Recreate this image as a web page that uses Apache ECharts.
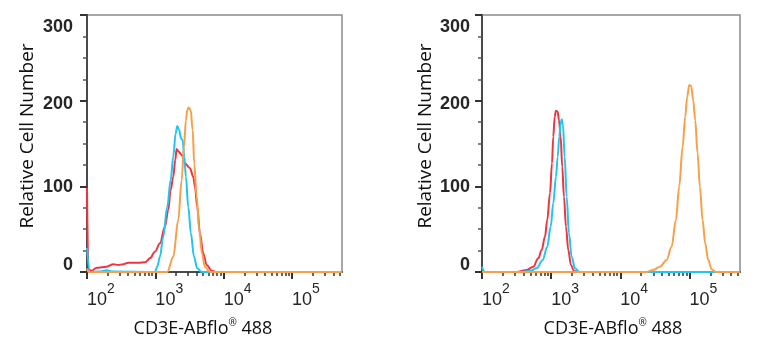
<!DOCTYPE html>
<html>
<head>
<meta charset="utf-8">
<script src="https://cdn.jsdelivr.net/npm/echarts@6/dist/echarts.min.js"></script>
<style>
html,body{margin:0;padding:0;background:#fff;}
#chart{width:757px;height:350px;}
</style>
</head>
<body>
<div id="chart"></div>
<script>
// ---- data (fluorescence value, relative cell count) ----
const xAxisTitle = 'CD3E-ABflo® 488';
const yAxisTitle = 'Relative Cell Number';
const yTickValues = [0, 100, 200, 300];
const xTickExponents = [2, 3, 4, 5];
const xMin = 100;
const xMax = 537000;

const leftRed = [[100,98],[104.5,3],[117,1.5],[139,5],[194,6.2],[242,9],[287,8.2],[340,9],[402,10.9],[562,10.9],[705,11.3],[834,16],[986,23.7],[1167,33.5],[1381,52.9],[1544,72.4],[1674,95.7],[1827,111.2],[1954,130.7],[2048,143.6],[2191,140.4],[2424,136.6],[2709,126.9],[3206,121],[3583,111.2],[3793,99.6],[4100,76.2],[4487,45.2],[5015,21.8],[5623,8.2],[6653,1.5],[7870,0],[537000,0]];
const leftCyan = [[100,28],[111,0],[150,0.5],[195,2],[240,0.5],[986,0],[1066,6.2],[1167,17.9],[1304,41.2],[1493,76.2],[1674,107.4],[1827,134.6],[1981,161.9],[2090,170.4],[2235,165.8],[2367,156],[2506,154],[2647,134.6],[2800,111],[3027,76],[3313,45],[3667,18],[4100,4.3],[4753,0],[537000,0]];
const leftOrange = [[100,4],[106,0],[1493,0],[1827,17.9],[2162,60.7],[2424,107],[2618,146],[2800,177],[2927,189],[3069,192],[3281,189],[3508,166],[3704,127],[4015,88],[4385,49],[4799,22],[5309,6],[6281,0],[537000,0]];

const rightRed = [[100,0],[317,0],[443,2.3],[551,6.2],[651,16],[729,25.7],[813,41.2],[878,60.7],[961,91.9],[1028,126.9],[1072,157.9],[1124,181.3],[1173,188.3],[1242,187.1],[1297,177.4],[1371,157.9],[1446,122.9],[1531,87.9],[1637,52.9],[1766,25.7],[1932,8.2],[2133,1.2],[2464,0],[537000,0]];
const rightCyan = [[100,6],[110,0],[354,0],[494,1.5],[617,4.3],[754,14],[878,29.5],[984,52.9],[1072,80.2],[1173,111.2],[1242,134.6],[1309,157.9],[1371,173.6],[1419,178.2],[1482,171.6],[1567,134.6],[1675,87.9],[1807,45.2],[1978,17.9],[2208,4.3],[2547,0],[537000,0]];
const rightOrange = [[100,0],[23988,0],[29854,2.3],[37343,6.2],[46660,14],[55081,29.5],[63561,60.7],[70975,99.6],[79490,146.3],[86660,181.3],[92640,204.6],[99080,218.3],[105900,216.8],[113000,200.8],[120800,177.4],[130900,138.6],[141300,99.6],[154600,60.7],[168600,33.5],[186400,14],[208600,3.2],[241000,0],[537000,0]];

// ---- derived tick lists ----
const xMajor = xTickExponents.map(e => Math.pow(10, e));
const xMinor = [];
xTickExponents.forEach(e => { for (let m = 2; m <= 9; m++) { const v = m * Math.pow(10, e); if (v <= xMax) xMinor.push(v); } });

const COL_RED = '#f03440', COL_CYAN = '#22c4f0', COL_ORANGE = '#f8a048';
const TICK_COL = '#333', AXIS_COL = '#4a4a4a', LABEL_COL = '#262626';

// vertical nudges of tick labels (style only)
const yLabelRich = {
  t0:   {fontFamily:'Liberation Sans', fontWeight:'bold', fontSize:18, color:LABEL_COL, padding:[0,0,14,0]},
  t100: {fontFamily:'Liberation Sans', fontWeight:'bold', fontSize:18, color:LABEL_COL, padding:[2,0,0,0]},
  t200: {fontFamily:'Liberation Sans', fontWeight:'bold', fontSize:18, color:LABEL_COL, padding:[6,0,0,0]},
  t300: {fontFamily:'Liberation Sans', fontWeight:'bold', fontSize:18, color:LABEL_COL, padding:[24,0,0,0]}
};

function makeGrid(left, right) {
  return {left: left, right: right, top: 15, bottom: 78, show: true, borderColor: '#8a8a8a', borderWidth: 1.5, backgroundColor: '#fff'};
}
function xMajorAxis(g, namePad) {
  return {
    type: 'log', logBase: 10, gridIndex: g, min: xMin, max: xMax, position: 'bottom',
    axisLine: {show: true, onZero: false, lineStyle: {color: AXIS_COL, width: 2}},
    axisTick: {show: true, inside: false, customValues: xMajor, length: 7, lineStyle: {color: TICK_COL, width: 2}},
    minorTick: {show: false},
    splitLine: {show: false},
    axisLabel: {
      customValues: xMajor, align: 'left', margin: 10,
      formatter: v => '{b|10}{s|' + Math.round(Math.log10(v)) + '}',
      rich: {
        b: {fontFamily: 'Liberation Sans', fontSize: 18, color: LABEL_COL, lineHeight: 36, verticalAlign: 'middle'},
        s: {fontFamily: 'Liberation Sans', fontSize: 14, color: LABEL_COL, lineHeight: 14, verticalAlign: 'top'}
      }
    },
    name: 'CD3E-ABflo{r|®} 488', nameLocation: 'middle', nameGap: 46,
    nameTextStyle: {
      fontFamily: 'Open Sans', fontSize: 18, color: '#111', lineHeight: 22, padding: namePad,
      rich: {r: {fontFamily: 'Open Sans', fontSize: 10, color: '#111', lineHeight: 10, verticalAlign: 'top'}}
    }
  };
}
function xMinorAxis(g) {
  return {
    type: 'log', logBase: 10, gridIndex: g, min: xMin, max: xMax, position: 'bottom',
    axisLine: {show: false, onZero: false},
    axisTick: {show: true, inside: false, customValues: xMinor, length: 4, lineStyle: {color: TICK_COL, width: 1.5}},
    axisLabel: {show: false}, splitLine: {show: false}
  };
}
function yAxisCfg(g, labelMargin, nameGap) {
  return {
    type: 'value', gridIndex: g, min: 0, max: 300, interval: 100,
    axisLine: {show: true, onZero: false, lineStyle: {color: AXIS_COL, width: 2}},
    axisTick: {show: true, length: 7, lineStyle: {color: TICK_COL, width: 2}},
    minorTick: {show: true, splitNumber: 4, length: 4, lineStyle: {color: '#555', width: 1.5}},
    splitLine: {show: false},
    axisLabel: {
      margin: labelMargin,
      formatter: v => yTickValues.indexOf(v) >= 0 ? '{t' + v + '|' + v + '}' : '',
      rich: yLabelRich
    },
    name: yAxisTitle, nameLocation: 'middle', nameGap: nameGap,
    nameTextStyle: {fontFamily: 'Open Sans', fontSize: 19, color: '#111', padding: [0, 0, 0, 15]}
  };
}
function lineSeries(data, color, xi, yi) {
  return {
    type: 'line', data: data, xAxisIndex: xi, yAxisIndex: yi,
    showSymbol: false, smooth: 0.35, smoothMonotone: 'x',
    lineStyle: {color: color, width: 2}, itemStyle: {color: color},
    silent: true, animation: false
  };
}

const chart = echarts.init(document.getElementById('chart'), null, {renderer: 'canvas'});
chart.setOption({
  backgroundColor: '#ffffff',
  animation: false,
  grid: [makeGrid(87, 415), makeGrid(482, 17)],
  xAxis: [xMajorAxis(0, [0, 23, 0, 0]), xMinorAxis(0), xMajorAxis(1, [0, 0, 0, 4]), xMinorAxis(1)],
  yAxis: [yAxisCfg(0, 14, 50), yAxisCfg(1, 12, 47)],
  series: [
    lineSeries(leftRed, COL_RED, 0, 0),
    lineSeries(leftCyan, COL_CYAN, 0, 0),
    lineSeries(leftOrange, COL_ORANGE, 0, 0),
    lineSeries(rightRed, COL_RED, 2, 1),
    lineSeries(rightCyan, COL_CYAN, 2, 1),
    lineSeries(rightOrange, COL_ORANGE, 2, 1)
  ]
});
</script>
</body>
</html>
